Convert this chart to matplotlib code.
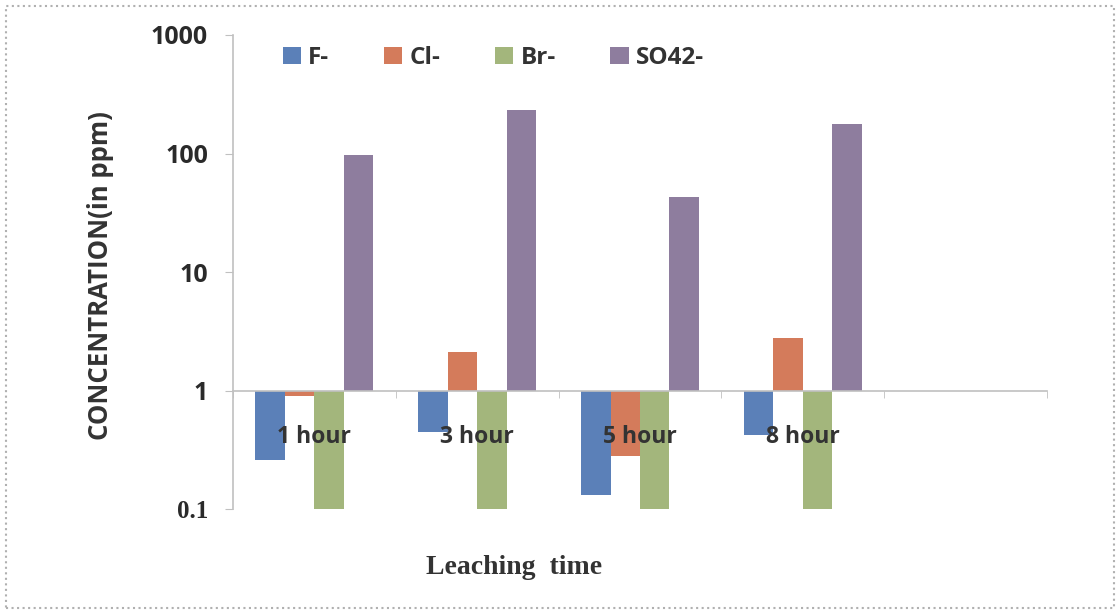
import matplotlib.pyplot as plt
from matplotlib.patches import Rectangle
import numpy as np

# data (ppm, log axis crossing at 1)
categories = ['1 hour', '3 hour', '5 hour', '8 hour', '']
series_names = ['F-', 'Cl-', 'Br-', 'SO42-']
f_vals = [0.26, 0.45, 0.13, 0.42, np.nan]
cl_vals = [0.89, 2.1, 0.28, 2.8, np.nan]
br_vals = [0.1, 0.1, 0.1, 0.1, np.nan]
so4_vals = [98, 231, 43, 179, np.nan]
colors = ['#5b80b8', '#d47b5b', '#a3b67c', '#8e7d9e']

fig = plt.figure(figsize=(11.18, 6.12), dpi=100)
ax = fig.add_axes([233 / 1118, 1 - 509 / 612, 814 / 1118, 474 / 612])

x = np.arange(len(categories))
w = 0.181
all_vals = [f_vals, cl_vals, br_vals, so4_vals]
for i, vals in enumerate(all_vals):
    v = np.array(vals, dtype=float)
    ax.bar(x + (i - 1.5) * w, v - 1, bottom=1, width=w, color=colors[i],
           label=series_names[i], linewidth=0)

ax.set_yscale('log')
ax.set_ylim(0.1, 1000)
ax.set_xlim(-0.5, len(categories) - 0.5)

# axis styling like excel: x axis crosses at 1
for s in ['top', 'right']:
    ax.spines[s].set_visible(False)
ax.spines['bottom'].set_position(('data', 1))
ax.spines['bottom'].set_color('#c0c0c0')
ax.spines['left'].set_color('#c0c0c0')
ax.spines['bottom'].set_linewidth(1.2)
ax.spines['left'].set_linewidth(1.2)

ax.set_yticks([0.1, 1, 10, 100, 1000])
ax.set_yticklabels(['0.1', '1', '10', '100', '1000'])
ax.yaxis.set_minor_locator(plt.NullLocator())
ax.tick_params(axis='y', which='major', length=6, color='#c0c0c0', pad=12,
               labelsize=18, labelcolor='#2a2a2a')
for lab in ax.get_yticklabels():
    lab.set_fontweight('bold')
    lab.set_family('Open Sans')
ax.get_yticklabels()[0].set_family('Liberation Serif')
ax.get_yticklabels()[0].set_fontsize(18)

ax.set_xticks(x)
ax.set_xticklabels(categories)
ax.set_xticks(np.arange(-0.5, len(categories)), minor=True)
ax.tick_params(axis='x', which='major', length=0, pad=25, labelsize=16.5,
               labelcolor='#333333')
ax.tick_params(axis='x', which='minor', length=5, color='#c0c0c0', direction='out')
for lab in ax.get_xticklabels():
    lab.set_fontweight('bold')
    lab.set_family('Open Sans')

leg = ax.legend(loc='center left', bbox_to_anchor=(0.034, 0.952), ncol=4,
                frameon=False, handlelength=0.75, handleheight=0.7,
                handletextpad=0.3, columnspacing=2.25,
                prop={'family': 'Open Sans', 'weight': 'bold', 'size': 17.5})
for t in leg.get_texts():
    t.set_color('#333333')

fig.text(101 / 1118, 1 - 276 / 612, 'CONCENTRATION(in ppm)', rotation=90,
         ha='center', va='center', fontsize=18.5, fontweight='bold',
         family='Open Sans', color='#333333')
fig.text(514 / 1118, 1 - 568 / 612, 'Leaching  time', ha='center', va='center',
         fontsize=20, fontweight='bold', family='Liberation Serif', color='#333333')

fig.patches.append(Rectangle((6 / 1118, 4 / 612), 1108 / 1118, 602 / 612,
                             transform=fig.transFigure, fill=False,
                             edgecolor='#b0b0b0', linestyle=':', linewidth=1.5))

fig.savefig('out.png', dpi=100)
